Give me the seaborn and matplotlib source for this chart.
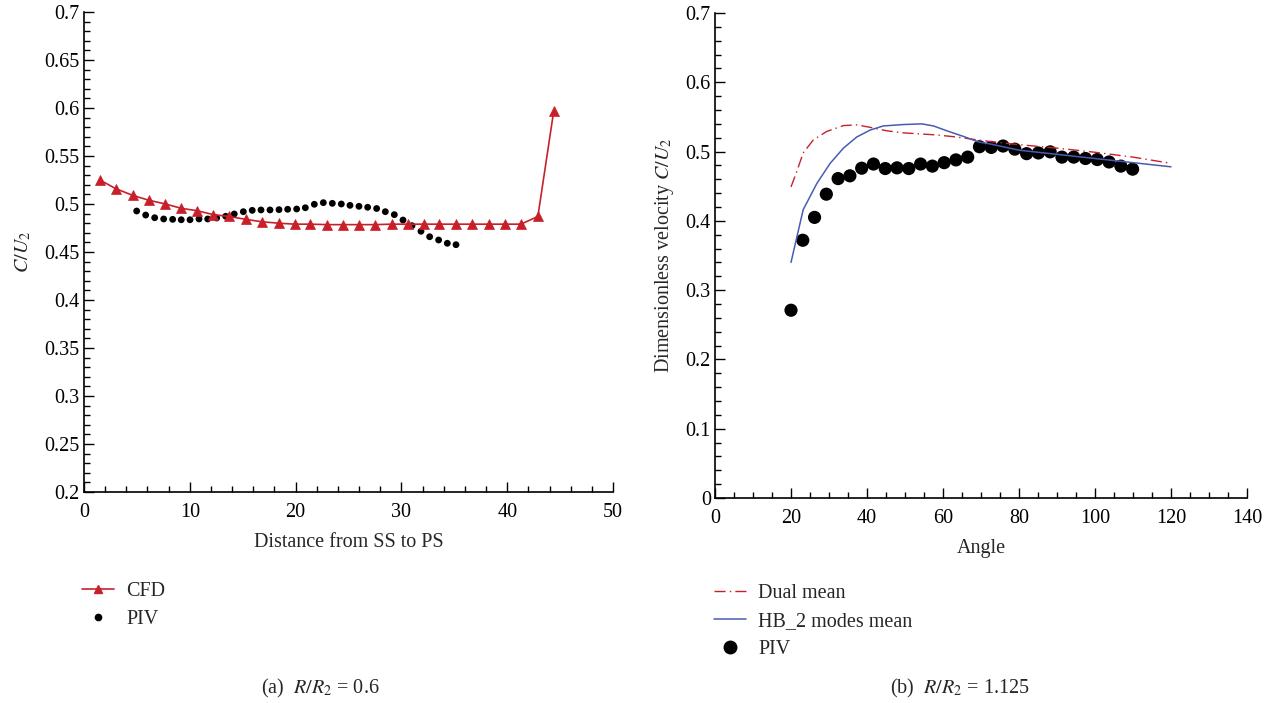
import matplotlib
matplotlib.use("Agg")
import matplotlib.pyplot as plt
import seaborn as sns
from matplotlib.lines import Line2D
from matplotlib.ticker import MultipleLocator

# ---------------- data: panel (a) ----------------
cfd_x = [1.5, 3.0, 4.6, 6.1, 7.7, 9.2, 10.7, 12.2, 13.7, 15.3, 16.8, 18.4, 19.9, 21.4,
         23.0, 24.5, 26.0, 27.5, 29.1, 30.6, 32.1, 33.6, 35.2, 36.7, 38.3, 39.8, 41.3,
         42.9, 44.4]
cfd_y = [0.525, 0.516, 0.509, 0.504, 0.500, 0.4955, 0.493, 0.489, 0.487, 0.484, 0.4815,
         0.480, 0.479, 0.479, 0.4785, 0.4785, 0.4785, 0.4785, 0.479, 0.479, 0.479, 0.479,
         0.479, 0.479, 0.479, 0.479, 0.479, 0.487, 0.597]
piv_a_x = [4.98, 5.83, 6.68, 7.53, 8.38, 9.19, 10.02, 10.87, 11.69, 12.54, 13.39, 14.2,
           15.06, 15.9, 16.73, 17.58, 18.43, 19.25, 20.1, 20.92, 21.77, 22.62, 23.47,
           24.32, 25.14, 25.99, 26.81, 27.66, 28.48, 29.33, 30.15, 31.0, 31.85, 32.67,
           33.52, 34.34, 35.16]
piv_a_y = [0.4927, 0.4885, 0.4857, 0.4844, 0.484, 0.4836, 0.4836, 0.4844, 0.4844, 0.4854,
           0.4872, 0.4896, 0.492, 0.4934, 0.4938, 0.4938, 0.4941, 0.4945, 0.4948, 0.4961,
           0.4997, 0.5014, 0.5007, 0.5, 0.4986, 0.4976, 0.4966, 0.4953, 0.492, 0.4889,
           0.4833, 0.4774, 0.4716, 0.4659, 0.4625, 0.4591, 0.4576]

# ---------------- data: panel (b) ----------------
dual_x = [20, 21.5, 23.2, 25.9, 29.4, 33.8, 37.3, 40.8, 45.2, 49.6, 53.9, 58.3, 63.6,
          68.9, 72.4, 80, 90, 100, 110, 120]
dual_y = [0.449, 0.471, 0.498, 0.517, 0.529, 0.5375, 0.5385, 0.535, 0.530, 0.527, 0.5255,
          0.524, 0.521, 0.517, 0.5145, 0.510, 0.505, 0.499, 0.492, 0.483]
hb_x = [20, 23.2, 26.8, 30.3, 33.8, 37.3, 40.8, 44.3, 49.6, 54.4, 57.5, 61.0, 65.3, 69.3,
        72.4, 80, 90, 100, 110, 120]
hb_y = [0.340, 0.416, 0.454, 0.483, 0.505, 0.521, 0.531, 0.537, 0.539, 0.540, 0.537,
        0.530, 0.522, 0.514, 0.511, 0.502, 0.496, 0.490, 0.484, 0.478]
piv_b_x = [20, 23.1, 26.2, 29.3, 32.4, 35.5, 38.6, 41.7, 44.8, 47.9, 51.0, 54.1, 57.2,
           60.3, 63.4, 66.5, 69.6, 72.7, 75.8, 78.9, 82.0, 85.1, 88.2, 91.3, 94.4, 97.5,
           100.6, 103.7, 106.8, 109.9]
piv_b_y = [0.271, 0.372, 0.405, 0.4385, 0.461, 0.465, 0.476, 0.482, 0.4755, 0.4765,
           0.4755, 0.482, 0.479, 0.484, 0.488, 0.492, 0.507, 0.506, 0.508, 0.5035, 0.497,
           0.498, 0.4996, 0.492, 0.492, 0.490, 0.4885, 0.485, 0.479, 0.4746]

RED = "#c8202a"
BLUE = "#4a5cb0"

sns.set_style("ticks")
plt.rcParams["font.family"] = ["Liberation Serif", "DejaVu Serif"]
plt.rcParams["mathtext.fontset"] = "stix"
FS = 14.5

W, H = 1273, 703
fig = plt.figure(figsize=(W / 100, H / 100), dpi=100)
ax1 = fig.add_axes([84 / W, 1 - 492 / H, (613 - 84) / W, 480 / H])
ax2 = fig.add_axes([715 / W, 1 - 498 / H, (1247 - 715) / W, 485 / H])

# panel (a)
sns.lineplot(x=cfd_x, y=cfd_y, ax=ax1, sort=False, color=RED, linewidth=1.2,
             marker="^", markersize=7, markeredgecolor=RED, markeredgewidth=0.5)
sns.scatterplot(x=piv_a_x, y=piv_a_y, ax=ax1, color="black", s=24, edgecolor="none")

# panel (b)
sns.lineplot(x=dual_x, y=dual_y, ax=ax2, sort=False, color=RED, linewidth=1.0,
             linestyle=(0, (8, 3, 1, 3)))
sns.lineplot(x=hb_x, y=hb_y, ax=ax2, sort=False, color=BLUE, linewidth=1.1)
sns.scatterplot(x=piv_b_x, y=piv_b_y, ax=ax2, color="black", s=90, edgecolor="none")

for ax in (ax1, ax2):
    sns.despine(ax=ax)
    ax.tick_params(which="both", direction="in", labelsize=FS, colors="black",
                   width=1.0)
    ax.tick_params(which="major", length=7)
    ax.tick_params(which="minor", length=4)
    ax.tick_params(axis="x", which="major", pad=8)
    ax.tick_params(axis="y", which="major", pad=3)
    for sp in ("left", "bottom"):
        ax.spines[sp].set_linewidth(1.2)
        ax.spines[sp].set_color("black")

ax1.set_xlim(0, 50)
ax1.set_ylim(0.2, 0.7)
ax1.xaxis.set_major_locator(MultipleLocator(10))
ax1.xaxis.set_minor_locator(MultipleLocator(2))
ax1.yaxis.set_minor_locator(MultipleLocator(0.01))
ax1.set_yticks([0.2, 0.25, 0.3, 0.35, 0.4, 0.45, 0.5, 0.55, 0.6, 0.65, 0.7])
ax1.set_yticklabels(["0.2", "0.25", "0.3", "0.35", "0.4", "0.45", "0.5", "0.55", "0.6",
                     "0.65", "0.7"])
ax1.set_xlabel("Distance from SS to PS", fontsize=FS, labelpad=8)
ax1.set_ylabel("$C/U_2$", fontsize=FS, labelpad=8)

ax2.set_xlim(0, 140)
ax2.set_ylim(0, 0.7)
ax2.xaxis.set_major_locator(MultipleLocator(20))
ax2.xaxis.set_minor_locator(MultipleLocator(5))
ax2.yaxis.set_minor_locator(MultipleLocator(0.02))
ax2.set_yticks([0, 0.1, 0.2, 0.3, 0.4, 0.5, 0.6, 0.7])
ax2.set_yticklabels(["0", "0.1", "0.2", "0.3", "0.4", "0.5", "0.6", "0.7"])
ax2.set_xlabel("Angle", fontsize=FS, labelpad=8)
ax2.set_ylabel("Dimensionless velocity $C/U_2$", fontsize=FS, labelpad=7)

# legends
h_a = [Line2D([], [], color=RED, lw=1.2, marker="^", markersize=6,
              markeredgecolor=RED),
       Line2D([], [], color="black", lw=0, marker="o", markersize=4.5)]
fig.legend(h_a, ["CFD", "PIV"], loc="upper left",
           bbox_to_anchor=(82 / W, 1 - 582 / H), frameon=False, fontsize=FS,
           handlelength=1.6, handletextpad=0.6, labelspacing=0.45,
           borderaxespad=0, borderpad=0)

h_b = [Line2D([], [], color=RED, lw=1.0, linestyle=(0, (8, 3, 1, 3))),
       Line2D([], [], color=BLUE, lw=1.1),
       Line2D([], [], color="black", lw=0, marker="o", markersize=9)]
fig.legend(h_b, ["Dual mean", "HB_2 modes mean", "PIV"], loc="upper left",
           bbox_to_anchor=(714 / W, 1 - 584 / H), frameon=False, fontsize=FS,
           handlelength=1.6, handletextpad=0.6, labelspacing=0.45,
           borderaxespad=0, borderpad=0)
for ax in (ax1, ax2):
    lg = ax.get_legend()
    if lg is not None:
        lg.remove()

# captions
fig.text(320 / W, 1 - 688 / H, "(a)  $R/R_2$ = 0.6", ha="center", va="center",
         fontsize=FS)
fig.text(960 / W, 1 - 688 / H, "(b)  $R/R_2$ = 1.125", ha="center", va="center",
         fontsize=FS)

fig.savefig("out.png", dpi=100)
